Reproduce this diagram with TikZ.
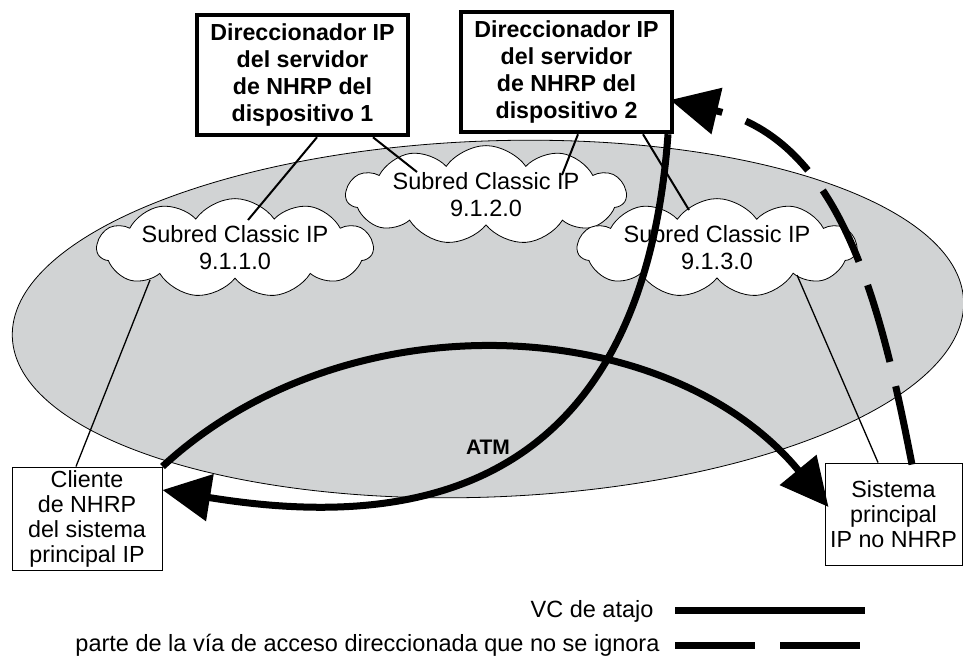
\documentclass[tikz,border=0pt]{standalone}
\usepackage{fontspec}
\setmainfont{Liberation Sans}
\usetikzlibrary{shapes.symbols,arrows.meta,calc}
\definecolor{atmgray}{RGB}{209,211,212}
\begin{document}
\begin{tikzpicture}[x=1pt,y=-1pt,
  txt/.style={font=\fontsize{23.5}{27}\selectfont, align=center},
  router/.style={draw, line width=4.5pt, fill=white, align=center, font=\fontsize{23.2}{27}\selectfont\bfseries, minimum width=211pt, minimum height=120pt, inner sep=0pt},
  host/.style={draw, line width=1pt, fill=white, align=center, font=\fontsize{23.3}{25}\selectfont, inner sep=0pt},
  subnet/.style={cloud, draw, line width=0.8pt, fill=white, cloud puffs=11, cloud puff arc=110, cloud ignores aspect, inner sep=0pt, txt},
  link/.style={line width=2pt},
  hostlink/.style={line width=1.3pt},
  vc/.style={line width=7pt, -{Triangle[length=48pt,width=46pt]}},
  routed/.style={line width=7pt, dash pattern=on 80pt off 25pt, -{Triangle[length=48pt,width=46pt]}}
]
\useasboundingbox (0,0) rectangle (963,657);
% ATM network
\draw[fill=atmgray, line width=0.8pt, rotate around={2.2:(488,320)}] (488,319) ellipse [x radius=476, y radius=178];
% subnets
\node[subnet, minimum width=276pt, minimum height=97pt] (s1) at (235,248) {Subred Classic IP\\9.1.1.0};
\node[subnet, minimum width=280pt, minimum height=88pt] (s2) at (486,195) {Subred Classic IP\\9.1.2.0};
\node[subnet, minimum width=279pt, minimum height=90pt] (s3) at (717,248) {Subred Classic IP\\9.1.3.0};
% routers
\node[router] (r1) at (302.5,75) {Direccionador IP\\del servidor\\de NHRP del\\dispositivo 1};
\node[router] (r2) at (566.5,72) {Direccionador IP\\del servidor\\de NHRP del\\dispositivo 2};
% hosts
\node[host, minimum width=150pt, minimum height=103pt] (cli) at (87,518.5) {Cliente\\de NHRP\\del sistema\\principal IP};
\node[host, minimum width=137pt, minimum height=102pt] (sis) at (893.5,514) {Sistema\\principal\\IP no NHRP};
% links
\draw[link] ($(r1.south)+(14.5,0)$) -- ($(s1.center)+(13,-28)$);
\draw[link] ($(r1.south)+(70.5,0)$) -- ($(s2.center)+(-69,-23)$);
\draw[link] ($(r2.south)+(11.5,0)$) -- ($(s2.center)+(76,-20)$);
\draw[link] ($(r2.south)+(76.5,0)$) -- ($(s3.center)+(-28,-38)$);
\draw[hostlink] ($(cli.north)+(-11,0)$) -- ($(s1.center)+(-85,32)$);
\draw[hostlink] ($(sis.north)+(-15.5,0)$) -- ($(s3.center)+(80,27)$);
% ATM label
\node[font=\fontsize{21}{21}\selectfont\bfseries] (atm) at (488,447) {ATM};
% shortcut VCs
\draw[vc] ($(r2.south)+(101.5,0)$) .. controls (640,520) and (379,525) .. ($(cli.east)+(0,-28.5)$);
\draw[vc] (cli.north east) .. controls (348,295) and (670,314) .. ($(sis.west)+(4,-7)$);
% routed path
\draw[routed] ($(sis.north)+(18.5,2)$) .. controls (880,300) and (840,140) .. ($(r2.east)+(-4,28)$);
% legend
\node[txt, anchor=base east] (l1) at (657,617) {VC de atajo};
\node[txt, anchor=base east] (l2) at (663,651) {parte de la vía de acceso direccionada que no se ignora};
\coordinate (l1a) at (675,610);
\coordinate (l1b) at (865,610);
\coordinate (l2a) at (675,645);
\coordinate (l2b) at (860,645);
\draw[line width=7pt] (l1a) -- (l1b);
\draw[line width=7pt, dash pattern=on 80pt off 25pt] (l2a) -- (l2b);
\end{tikzpicture}
\end{document}
